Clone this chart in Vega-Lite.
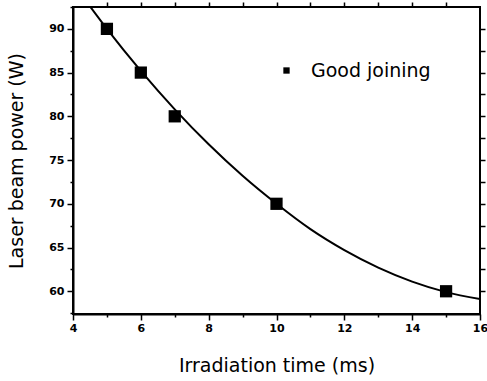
{
  "$schema": "https://vega.github.io/schema/vega-lite/v6.json",
  "autosize": "none",
  "width": 407,
  "height": 307,
  "padding": {"left": 73, "top": 7, "right": 7, "bottom": 67},
  "background": "white",
  "config": {
    "view": {"stroke": "black", "strokeWidth": 2},
    "axis": {"grid": false, "domainColor": "black", "domainWidth": 2, "tickColor": "black", "tickWidth": 1.5,
      "labelFont": "DejaVu Sans", "labelFontWeight": "bold", "labelFontSize": 11, "labelColor": "black", "labelOverlap": false,
      "titleFont": "DejaVu Sans", "titleFontWeight": "normal", "titleFontSize": 19, "titleColor": "black"}
  },
  "datasets": {
    "pts": [
      {"t": 5, "p": 90, "s": "Good joining"},
      {"t": 6, "p": 85, "s": "Good joining"},
      {"t": 7, "p": 80, "s": "Good joining"},
      {"t": 10, "p": 70, "s": "Good joining"},
      {"t": 15, "p": 60, "s": "Good joining"}
    ],
    "curve": [
      {"t": 4.4, "p": 93.1},
      {"t": 5, "p": 90.0},
      {"t": 6, "p": 85.2},
      {"t": 7, "p": 80.8},
      {"t": 8, "p": 76.8},
      {"t": 9, "p": 73.2},
      {"t": 10, "p": 70.0},
      {"t": 11, "p": 67.1},
      {"t": 12, "p": 64.7},
      {"t": 13, "p": 62.7},
      {"t": 14, "p": 61.1},
      {"t": 15, "p": 59.9},
      {"t": 16, "p": 59.1}
    ]
  },
  "resolve": {"axis": {"x": "independent", "y": "independent"}},
  "layer": [
    {
      "data": {"name": "curve"},
      "mark": {"type": "line", "color": "black", "strokeWidth": 2, "interpolate": "monotone", "clip": true},
      "encoding": {
        "x": {"field": "t", "type": "quantitative", "scale": {"domain": [4, 16], "nice": false},
          "axis": {"title": "Irradiation time (ms)", "values": [4,5,6,7,8,9,10,11,12,13,14,15,16],
            "labelExpr": "datum.value % 2 === 0 ? datum.label : ''",
            "tickSize": {"condition": {"test": "datum.value % 2 === 0", "value": 6}, "value": 3},
            "labelPadding": 2, "titlePadding": 23, "labelFlush": false}},
        "y": {"field": "p", "type": "quantitative", "scale": {"domain": [57.4, 92.5], "nice": false, "zero": false},
          "axis": {"title": "Laser beam power (W)", "values": [57.5,60,62.5,65,67.5,70,72.5,75,77.5,80,82.5,85,87.5,90,92.5],
            "labelExpr": "datum.value % 5 === 0 ? datum.label : ''",
            "tickSize": {"condition": {"test": "datum.value % 5 === 0", "value": 6}, "value": 3},
            "labelPadding": 3, "titlePadding": 22}}
      }
    },
    {
      "data": {"name": "pts"},
      "mark": {"type": "point", "shape": "square", "filled": true, "opacity": 1, "size": 150},
      "encoding": {
        "x": {"field": "t", "type": "quantitative",
          "axis": {"orient": "top", "title": null, "labels": false, "domain": false, "values": [5,6,7,8,9,10,11,12,13,14,15],
            "tickSize": 5}},
        "y": {"field": "p", "type": "quantitative",
          "axis": {"orient": "right", "title": null, "labels": false, "domain": false, "values": [60,62.5,65,67.5,70,72.5,75,77.5,80,82.5,85,87.5,90],
            "tickSize": 5}},
        "color": {"field": "s", "type": "nominal", "scale": {"range": ["black"]},
          "legend": {"title": null, "orient": "none", "legendX": 204, "legendY": 54, "symbolSize": 40, "symbolType": "square",
            "labelFont": "DejaVu Sans", "labelFontSize": 19, "labelColor": "black", "labelOffset": 15}}
      }
    }
  ]
}
